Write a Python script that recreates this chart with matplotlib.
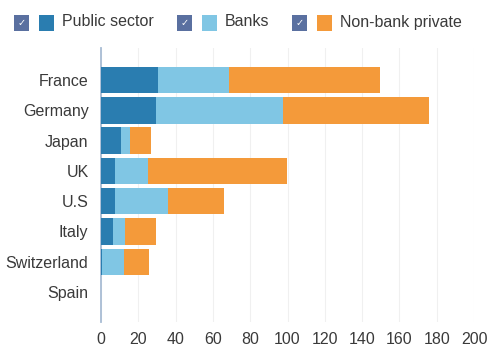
import numpy as np
import matplotlib.pyplot as plt
from matplotlib.patches import Rectangle

plt.rcParams['font.family'] = ['Liberation Sans', 'DejaVu Sans']

countries = ['France', 'Germany', 'Japan', 'UK', 'U.S', 'Italy', 'Switzerland', 'Spain']
public_sector = [30.5, 29.5, 10.5, 7.5, 7.5, 6.5, 0.5, 0]
banks = [38, 68, 5, 17.5, 28.5, 6.5, 12, 0]
non_bank_private = [81, 78.5, 11.5, 74.5, 30, 16.5, 13.5, 0]
series_names = ['Public sector', 'Banks', 'Non-bank private']

col_public = '#2a7db0'
col_banks = '#80c6e4'
col_orange = '#f49a3a'
colors = [col_public, col_banks, col_orange]

W, H = 488, 349
fig = plt.figure(figsize=(W / 100, H / 100), dpi=100)
ax = fig.add_axes([101 / W, 1 - 322 / H, 373 / W, 274 / H])

y = np.arange(len(countries))
left = np.zeros(len(countries))
for vals, c in zip([public_sector, banks, non_bank_private], colors):
    ax.barh(y, vals, left=left, height=0.87, color=c, edgecolor='none', zorder=3)
    left += np.array(vals)

ax.set_xlim(0, 200)
ax.set_ylim(7.99, -1.06)
ax.set_xticks(np.arange(0, 201, 20))
ax.set_yticks(y)
ax.set_yticklabels(countries)
ax.grid(axis='x', color='#f0f0f0', linewidth=0.8, zorder=0)
for s in ['top', 'right', 'bottom']:
    ax.spines[s].set_visible(False)
ax.spines['left'].set_color('#a8bcd4')
ax.spines['left'].set_linewidth(1.3)
ax.tick_params(axis='both', length=0, labelsize=11.5, colors='#3a3a3a')
ax.tick_params(axis='x', pad=7)
ax.tick_params(axis='y', pad=9)

# legend drawn by hand: checkbox, colour swatch, label
legend_x = [14, 177, 292]
for x0, name, c in zip(legend_x, series_names, colors):
    yb = 1 - 31 / H
    fig.add_artist(Rectangle((x0 / W, yb), 15 / W, 16 / H, transform=fig.transFigure,
                             facecolor='#5a70a0', edgecolor='none'))
    fig.text((x0 + 7.5) / W, 1 - 23 / H, '\u2713', color='white', fontsize=7,
             ha='center', va='center', family='DejaVu Sans')
    fig.add_artist(Rectangle(((x0 + 25) / W, yb), 15 / W, 16 / H, transform=fig.transFigure,
                             facecolor=c, edgecolor='none'))
    fig.text((x0 + 48) / W, 1 - 22 / H, name, color='#3a3a3a', fontsize=11.5,
             ha='left', va='center')

fig.savefig('out.png', dpi=100)
